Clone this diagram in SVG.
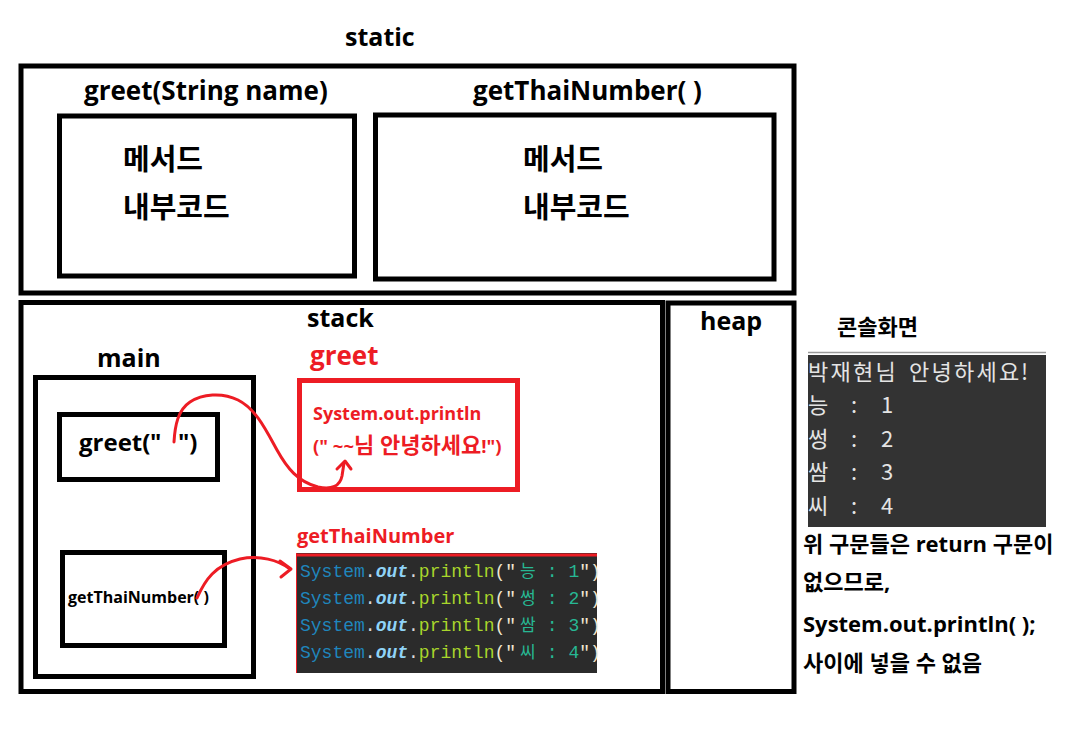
<svg xmlns="http://www.w3.org/2000/svg" width="1089" height="732" viewBox="0 0 1089 732">
<style>
.box{fill:none;stroke:#000;stroke-width:5}
.rbox{fill:none;stroke:#ED1C24;stroke-width:5}
.t{font-family:"Open Sans","Noto Sans CJK KR",sans-serif;font-weight:700;fill:#000}
.r{fill:#ED1C24}
.curve{fill:none;stroke:#ED1C24;stroke-width:3;stroke-linecap:round;stroke-linejoin:round}
.code{font-family:"Liberation Mono","Noto Sans CJK KR",monospace;font-size:18px}
.c-sys{fill:#1f86bd}
.c-dot{fill:#d8d8d8}
.c-out{fill:#8fd3f7;font-weight:700;font-style:italic}
.c-pr{fill:#a9d62c}
.c-q{fill:#f0e6d0}
.c-str{fill:#27b894}
.con{font-family:"Noto Sans CJK KR",sans-serif;font-size:22px;fill:#e4e4e4}
</style>
<rect width="1089" height="732" fill="#fff"/>

<g id="static">
<text class="t" x="345" y="46" font-size="25">static</text>
<rect class="box" x="21" y="66" width="773" height="227"/>
</g>

<g id="greet-method">
<text class="t" x="84" y="100" font-size="26">greet(String name)</text>
<rect class="box" x="59.5" y="116" width="295" height="160"/>
<text class="t" x="123" y="170" font-size="29">메서드</text>
<text class="t" x="123" y="218" font-size="29">내부코드</text>
</g>

<g id="getThaiNumber-method">
<text class="t" x="473" y="100" font-size="26">getThaiNumber( )</text>
<rect class="box" x="375.5" y="115" width="398.5" height="164"/>
<text class="t" x="523" y="170" font-size="29">메서드</text>
<text class="t" x="523" y="218" font-size="29">내부코드</text>
</g>

<g id="stack">
<rect class="box" x="21" y="302.5" width="641.5" height="389"/>
<text class="t" x="307" y="327" font-size="25">stack</text>
</g>

<g id="heap">
<rect class="box" x="668" y="303" width="126" height="388.5"/>
<text class="t" x="700" y="330" font-size="25">heap</text>
</g>

<g id="main">
<text class="t" x="97" y="367" font-size="25">main</text>
<rect class="box" x="35.5" y="377.5" width="218" height="299"/>
</g>

<g id="main-greet-call">
<rect class="box" x="59.5" y="414.5" width="158" height="65"/>
<text class="t" x="79" y="451" font-size="24">greet(<tspan x="150">"</tspan> <tspan x="178">"</tspan>)</text>
</g>

<g id="main-getThai-call">
<rect class="box" x="62.5" y="552.5" width="162" height="93"/>
<text class="t" x="68" y="603" font-size="16">getThaiNumber( )</text>
</g>

<g id="greet-frame">
<text class="t r" x="310" y="365" font-size="26">greet</text>
<rect class="rbox" x="299.5" y="380.5" width="218" height="109"/>
<text class="t r" x="313" y="420" font-size="18">System.out.println</text>
<text class="t r" x="313" y="453" font-size="18.5">(" ~~<tspan font-size="22">님 안녕하세요</tspan>!")</text>
</g>

<g id="getThai-frame">
<text class="t r" x="297" y="543" font-size="20">getThaiNumber</text>
<rect x="296" y="553" width="301" height="120" fill="#2b2b2b"/>
<line x1="296" y1="555" x2="597" y2="555" stroke="#ED1C24" stroke-width="3"/>
<line x1="296.5" y1="553" x2="296.5" y2="673" stroke="#ED1C24" stroke-width="1"/>
<text class="code" x="300" y="577"><tspan class="c-sys">System</tspan><tspan class="c-dot">.</tspan><tspan class="c-out">out</tspan><tspan class="c-dot">.</tspan><tspan class="c-pr">println</tspan><tspan class="c-q">("</tspan><tspan class="c-str" x="520" font-size="17">능</tspan><tspan class="c-str" x="536"> : 1</tspan><tspan class="c-q">")</tspan></text>
<text class="code" x="300" y="604"><tspan class="c-sys">System</tspan><tspan class="c-dot">.</tspan><tspan class="c-out">out</tspan><tspan class="c-dot">.</tspan><tspan class="c-pr">println</tspan><tspan class="c-q">("</tspan><tspan class="c-str" x="520" font-size="17">썽</tspan><tspan class="c-str" x="536"> : 2</tspan><tspan class="c-q">")</tspan></text>
<text class="code" x="300" y="631"><tspan class="c-sys">System</tspan><tspan class="c-dot">.</tspan><tspan class="c-out">out</tspan><tspan class="c-dot">.</tspan><tspan class="c-pr">println</tspan><tspan class="c-q">("</tspan><tspan class="c-str" x="520" font-size="17">쌈</tspan><tspan class="c-str" x="536"> : 3</tspan><tspan class="c-q">")</tspan></text>
<text class="code" x="300" y="658"><tspan class="c-sys">System</tspan><tspan class="c-dot">.</tspan><tspan class="c-out">out</tspan><tspan class="c-dot">.</tspan><tspan class="c-pr">println</tspan><tspan class="c-q">("</tspan><tspan class="c-str" x="520" font-size="17">씨</tspan><tspan class="c-str" x="536"> : 4</tspan><tspan class="c-q">")</tspan></text>
</g>

<g id="console">
<text class="t" x="837" y="335" font-size="22">콘솔화면</text>
<line x1="808" y1="352.5" x2="1046" y2="352.5" stroke="#9a9a9a" stroke-width="1.5"/>
<rect x="808" y="355" width="238" height="172" fill="#333333"/>
<text class="con" x="808 830.5 853 875.5 898 909 931.5 954 976.5 999 1021" y="380">박재현님 안녕하세요!</text>
<text class="con" x="808 830 851 862 881" y="413">능 : 1</text>
<text class="con" x="808 830 851 862 881" y="447">썽 : 2</text>
<text class="con" x="808 830 851 862 881" y="480">쌈 : 3</text>
<text class="con" x="808 830 851 862 881" y="514">씨 : 4</text>
</g>

<g id="note">
<text class="t" x="803" y="552" font-size="22">위 구문들은 return 구문이</text>
<text class="t" x="803" y="590" font-size="22">없으므로,</text>
<text class="t" x="803" y="632" font-size="22">System.out.println( );</text>
<text class="t" x="803" y="671" font-size="22">사이에 넣을 수 없음</text>
</g>

<g id="connectors">
<path class="curve" d="M174,442 C175,425 178,410 190,402 C202,394 222,392 238,400 C256,409 266,430 277,450 C287,468 298,482 318,487 C332,490 340,486 342,476 L344,463"/>
<path class="curve" d="M337,469 L345,461 L351,469"/>
<path class="curve" d="M197,598 C205,580 215,565 240,559 C260,555 278,560 290,569"/>
<path class="curve" d="M280,561 L291,569 L281,577"/>
</g>
</svg>
